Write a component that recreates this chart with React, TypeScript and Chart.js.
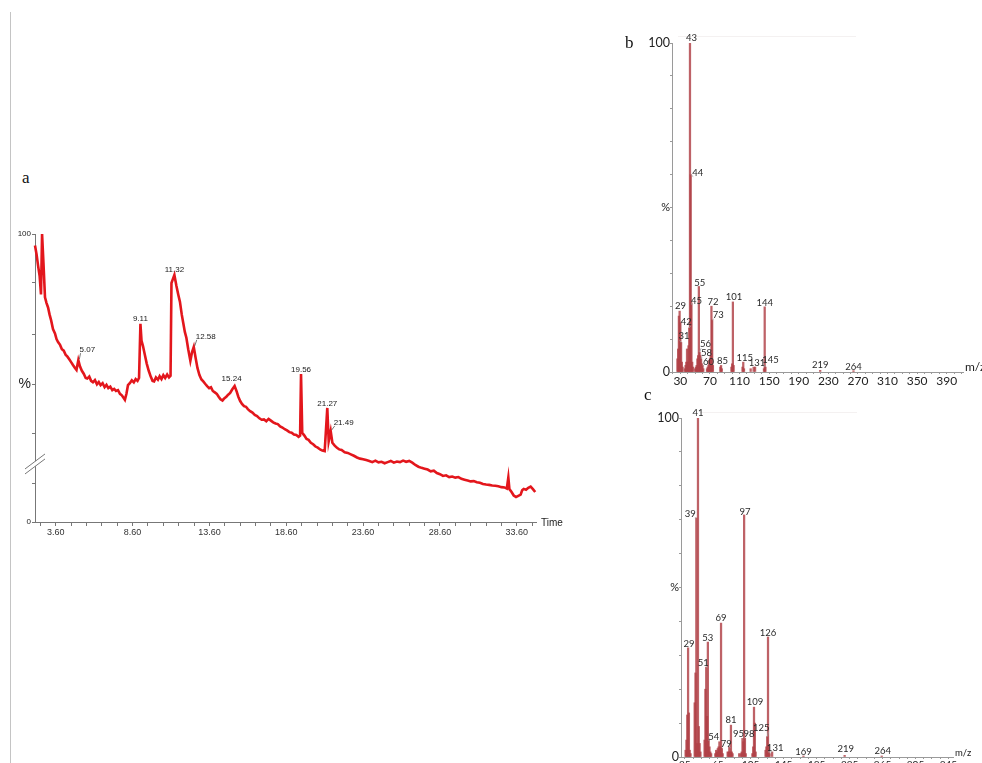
import React, { useEffect, useRef } from 'react';
import { Chart, registerables } from 'chart.js';

Chart.register(...registerables);
Chart.defaults.font.family = "'Liberation Sans', Arial, sans-serif";

// ---------- Panel a : chromatogram ----------
const chromTime = [
  2.25, 2.35, 2.45, 2.55, 2.64, 2.71, 2.8, 2.9, 3.0, 3.1, 3.2, 3.3, 3.42, 3.55, 3.65, 3.75, 3.88, 4.0, 4.12, 4.25,
  4.35, 4.48, 4.6, 4.72, 4.85, 4.95, 5.07, 5.18, 5.3, 5.42, 5.55, 5.65, 5.78, 5.9, 6.02, 6.15, 6.28, 6.4, 6.52, 6.65,
  6.78, 6.9, 7.02, 7.15, 7.28, 7.4, 7.52, 7.65, 7.78, 7.9, 8.0, 8.1, 8.2, 8.3, 8.42, 8.55, 8.68, 8.8, 8.92, 9.02,
  9.11, 9.18, 9.28, 9.4, 9.52, 9.65, 9.78, 9.9, 10.0, 10.12, 10.25, 10.36, 10.48, 10.6, 10.72, 10.85, 10.97, 11.07, 11.13, 11.32,
  11.45, 11.57, 11.68, 11.8, 11.9, 12.0, 12.1, 12.22, 12.36, 12.47, 12.58, 12.7, 12.82, 12.95, 13.08, 13.2, 13.32, 13.45, 13.58, 13.7,
  13.82, 13.95, 14.08, 14.2, 14.32, 14.45, 14.58, 14.7, 14.82, 14.95, 15.08, 15.24, 15.36, 15.48, 15.6, 15.72, 15.85, 15.98, 16.1, 16.25,
  16.4, 16.55, 16.7, 16.85, 17.0, 17.15, 17.3, 17.45, 17.6, 17.75, 17.9, 18.05, 18.2, 18.35, 18.5, 18.65, 18.8, 18.95, 19.1, 19.25,
  19.4, 19.5, 19.56, 19.64, 19.78, 19.92, 20.05, 20.2, 20.35, 20.5, 20.65, 20.8, 20.95, 21.1, 21.27, 21.36, 21.49, 21.6, 21.75, 21.9,
  22.05, 22.2, 22.4, 22.6, 22.8, 23.0, 23.2, 23.4, 23.6, 23.8, 24.0, 24.2, 24.4, 24.6, 24.8, 25.0, 25.2, 25.4, 25.6, 25.8,
  26.0, 26.2, 26.4, 26.6, 26.8, 27.0, 27.2, 27.4, 27.6, 27.8, 28.0, 28.2, 28.4, 28.6, 28.8, 29.0, 29.2, 29.4, 29.6, 29.8,
  30.0, 30.2, 30.4, 30.6, 30.8, 31.0, 31.2, 31.4, 31.6, 31.8, 32.0, 32.2, 32.4, 32.6, 32.8, 32.95, 33.05, 33.12, 33.25, 33.4,
  33.55, 33.7, 33.85, 33.95, 34.05, 34.2, 34.35, 34.5, 34.65, 34.8
];
const chromIntensity = [
  96, 93, 89, 85.5, 79, 100, 90, 78, 76, 74.5, 72, 70, 67, 65.5, 63.5, 62.5, 61.5, 60, 59.5, 58,
  57.5, 56.5, 55.5, 54.5, 53.5, 52.8, 56.2, 54, 52.5, 51.5, 50, 49.8, 50.5, 49, 48.5, 49.3, 47.8, 48.6, 47.5, 48.2,
  46.8, 47.6, 46.5, 47, 45.8, 46.2, 45.5, 45.8, 44.5, 44, 43.2, 42.4, 44.5, 47.5, 48.2, 49.2, 48.5, 49.6, 49, 50,
  68.8, 63, 61, 58, 55, 52.5, 50.5, 49, 48.8, 50.2, 49.4, 50.6, 49.6, 51, 50, 51.2, 50.2, 50.8, 83, 85.8,
  82, 79, 76.5, 72, 69, 66, 64, 60, 56, 59, 60.8, 57, 53.5, 51, 49.5, 48.8, 48, 47.2, 46.5, 46.8,
  45.5, 45, 44.5, 43.5, 42.6, 42.2, 43, 43.5, 44.2, 44.8, 46, 47.2, 45.5, 43.5, 42, 41, 40.2, 40, 39.2, 38.5,
  38, 37.2, 36.8, 36, 35.5, 35.6, 35, 35.8, 35.2, 34.6, 34.2, 34, 33.2, 32.8, 32.2, 31.8, 31.2, 31, 30.4, 30.2,
  29.6, 30, 51.4, 31, 30, 28.8, 28.5, 27.5, 27, 26.2, 25.8, 25.2, 24.8, 24.6, 39.6, 28, 31.6, 27.5, 26.5, 25.8,
  25.2, 25, 24.2, 24, 23.5, 23, 22.4, 22, 21.8, 21.5, 21.2, 20.8, 21.3, 20.7, 20.9, 20.4, 20.8, 21.2, 20.6, 21,
  20.8, 21.3, 20.9, 21.2, 20.6, 19.8, 19.2, 18.8, 18.5, 18.2, 17.6, 17.8, 17, 16.6, 16, 16.2, 15.6, 15.8, 15.4, 15.6,
  15, 14.7, 14.4, 14.1, 14.2, 13.8, 13.6, 13.2, 13, 12.9, 12.7, 12.6, 12.4, 12.1, 12, 11.6, 15.5, 11.4, 10.5, 9.2,
  8.7, 9.1, 9.5, 11, 11.5, 11.2, 11.9, 12.3, 11.4, 10.4
];
const chromXTicks = [
  2.6, 3.6, 4.6, 5.6, 6.6, 7.6, 8.6, 9.6, 10.6, 11.6, 12.6, 13.6, 14.6, 15.6, 16.6, 17.6, 18.6,
  19.6, 20.6, 21.6, 22.6, 23.6, 24.6, 25.6, 26.6, 27.6, 28.6, 29.6, 30.6, 31.6, 32.6, 33.6, 34.6
];
const chromXLabelled = [3.6, 8.6, 13.6, 18.6, 23.6, 28.6, 33.6];
const chromYTicks = [0, 13.5, 30.9, 47.9, 65, 83, 100];
const chromYPercentTick = 47.9;
const chromBreakValue = 20.5;

const peakTimes = [5.07, 9.11, 11.32, 12.58, 15.24, 19.56, 21.27, 21.49];
const peakValues = [56.2, 68.8, 85.8, 60.8, 47.2, 51.4, 39.6, 31.6];
const peakLabels = ['5.07', '9.11', '11.32', '12.58', '15.24', '19.56', '21.27', '21.49'];
const peakLabelOffsets = [[9, -10], [0, -5], [0, -5], [12, -10], [-3, -7], [0, -4], [0, -4], [13, -8]];

// ---------- Panel b : mass spectrum ----------
const specBMz = [26, 27, 28, 29, 30, 31, 32, 33, 36, 37, 38, 39, 40, 41, 42, 43, 44, 45, 46, 47, 50, 51, 52, 53, 54, 55, 56, 57, 58, 59, 60, 61, 66, 67, 68, 69, 70, 71, 72, 73, 74, 84, 85, 86, 99, 100, 101, 102, 114, 115, 116, 125, 129, 131, 143, 144, 145, 219, 264];
const specBInt = [4, 7, 17, 18.5, 15, 9, 3, 1.5, 1, 2, 3, 7, 3, 8, 13.4, 100, 60, 21, 3, 1.5, 1, 1.5, 2, 4, 5, 26, 6, 5, 4, 2.5, 2, 1, 1, 1.5, 2, 3.5, 4, 5, 20, 15.8, 2, 1.5, 2, 1, 1.5, 2.5, 21.3, 2, 1.5, 3, 1, 1, 1.5, 1.5, 1, 19.8, 1.5, 0.5, 0.4];
const specBLabelMz = [29, 31, 42, 43, 44, 45, 55, 56, 58, 60, 72, 73, 85, 101, 115, 131, 144, 145, 219, 264];
const specBLabelOffsets = [[1, -5], [3, -6], [-3, -6], [1.5, -5], [7, -2], [5, -2], [1, -4], [6, -8], [5.5, -6], [6, -3], [1.5, -4], [6, -5], [1.5, -4], [1, -5], [1.5, -4], [2, -4], [0, -4], [5, -7], [0, -5], [0, -4]];
const specBXTicks = [20, 30, 40, 50, 60, 70, 80, 90, 100, 110, 120, 130, 140, 150, 160, 170, 180, 190, 200, 210, 220, 230, 240, 250, 260, 270, 280, 290, 300, 310, 320, 330, 340, 350, 360, 370, 380, 390, 400, 410];
const specBXLabelled = [30, 70, 110, 150, 190, 230, 270, 310, 350, 390];

// ---------- Panel c : mass spectrum ----------
const specCMz = [26, 27, 28, 29, 30, 31, 32, 37, 38, 39, 40, 41, 42, 43, 44, 49, 50, 51, 52, 53, 54, 55, 56, 57, 62, 63, 64, 65, 66, 67, 68, 69, 70, 71, 77, 78, 79, 80, 81, 82, 83, 91, 93, 94, 95, 96, 97, 98, 99, 107, 108, 109, 110, 111, 123, 124, 125, 126, 127, 128, 131, 169, 219, 264];
const specCInt = [2, 5, 12.4, 32.2, 13, 2, 1, 16, 24.8, 70.5, 4, 100, 9, 4, 1.5, 5, 20, 26.5, 12, 33.9, 5, 3, 1.5, 1, 1, 2, 1.5, 2.5, 3, 4.5, 3, 39.5, 2.5, 1, 1.5, 1.5, 3, 1.5, 9.4, 1.5, 1, 1, 1, 1.5, 5.5, 4.5, 71.4, 5.5, 1, 1, 3, 14.7, 10, 1.5, 2, 3, 6, 35.4, 3.5, 1, 1.5, 0.3, 0.5, 0.3];
const specCLabelMz = [29, 39, 41, 51, 53, 54, 69, 79, 81, 95, 97, 98, 109, 125, 126, 131, 169, 219, 264];
const specCLabelOffsets = [[1, -4], [-6, -4], [0, -5], [-3, -4], [0, -4], [5, -3], [0, -5], [-3, -3], [0, -5], [-4, -4], [1, -3], [4, -4], [1, -5], [-6, -9], [0, -4], [3, -4], [0, -4], [1, -6], [1, -5]];
const specCXTicks = [25, 35, 45, 55, 65, 75, 85, 95, 105, 115, 125, 135, 145, 155, 165, 175, 185, 195, 205, 215, 225, 235, 245, 255, 265, 275, 285, 295, 305, 315, 325, 335, 345];
const specCXLabelled = [25, 65, 105, 145, 185, 225, 265, 305, 345];

const near = (a: number, b: number) => Math.abs(a - b) < 1e-6;
const LATO = "Lato, 'Liberation Sans', sans-serif";

function chromPlugin() {
  return {
    id: 'chromExtras',
    afterDraw(chart: any) {
      const { ctx, scales: { x, y } } = chart;
      ctx.save();
      // axis break
      const ax = x.left;
      const by = y.getPixelForValue(chromBreakValue);
      ctx.fillStyle = '#ffffff';
      ctx.beginPath();
      ctx.moveTo(ax - 10, by + 6);
      ctx.lineTo(ax + 10, by - 9);
      ctx.lineTo(ax + 10, by - 4);
      ctx.lineTo(ax - 10, by + 11);
      ctx.closePath();
      ctx.fill();
      ctx.strokeStyle = '#777';
      ctx.lineWidth = 1;
      ctx.beginPath();
      ctx.moveTo(ax - 10, by + 6);
      ctx.lineTo(ax + 10, by - 9);
      ctx.moveTo(ax - 10, by + 11);
      ctx.lineTo(ax + 10, by - 4);
      ctx.stroke();
      // peak labels
      ctx.font = "8px 'Liberation Sans', Arial, sans-serif";
      ctx.fillStyle = '#1a1a1a';
      ctx.textAlign = 'center';
      ctx.textBaseline = 'middle';
      peakTimes.forEach((t, i) => {
        const px = x.getPixelForValue(t);
        const py = y.getPixelForValue(peakValues[i]);
        const [dx, dy] = peakLabelOffsets[i];
        const lx = px + dx;
        const ly = py + dy;
        if (Math.abs(dx) >= 5) {
          const w = ctx.measureText(peakLabels[i]).width;
          ctx.strokeStyle = '#555';
          ctx.lineWidth = 0.8;
          ctx.beginPath();
          ctx.moveTo(px + 1, py - 1);
          ctx.lineTo(lx - w / 2 + 1, ly + 3);
          ctx.stroke();
        }
        ctx.fillText(peakLabels[i], lx, ly);
      });
      ctx.textAlign = 'left';
      ctx.font = "10px 'Liberation Sans', Arial, sans-serif";
      ctx.fillStyle = '#222';
      ctx.fillText('Time', x.right + 5, y.bottom + 1);
      ctx.restore();
    },
  };
}

function barLabelPlugin(id: string, mz: number[], vals: number[], labelMz: number[], offsets: number[][], axisFont: string, axisDy: number) {
  return {
    id,
    afterDatasetsDraw(chart: any) {
      const { ctx, scales: { x, y } } = chart;
      ctx.save();
      ctx.font = `9.5px ${LATO}`;
      ctx.fillStyle = '#2a2a2a';
      ctx.textAlign = 'center';
      ctx.textBaseline = 'middle';
      labelMz.forEach((m, i) => {
        const idx = mz.indexOf(m);
        const v = idx >= 0 ? vals[idx] : 0;
        const px = x.getPixelForValue(m);
        const py = y.getPixelForValue(v);
        const [dx, dy] = offsets[i];
        const lx = px + dx;
        const ly = py + dy;
        const text = String(m);
        if (Math.abs(dx) >= 3) {
          const w = ctx.measureText(text).width;
          ctx.strokeStyle = '#9a9a9a';
          ctx.lineWidth = 0.8;
          ctx.beginPath();
          ctx.moveTo(px, py);
          ctx.lineTo(lx - Math.sign(dx) * (w / 2 - 1), ly + 4);
          ctx.stroke();
        }
        ctx.fillText(text, lx, ly);
      });
      ctx.textAlign = 'left';
      ctx.font = axisFont;
      ctx.fillStyle = '#222';
      ctx.fillText('m/z', x.right + 2, y.bottom + axisDy);
      ctx.restore();
    },
  };
}

function specConfig(mz: number[], vals: number[], xMin: number, xMax: number, xTicks: number[], xLabelled: number[],
  pad: { top: number; right: number }, yWidth: number, xHeight: number, xFontSize: number, plugin: any) {
  return {
    type: 'bar' as const,
    data: {
      datasets: [{
        data: mz.map((m, i) => ({ x: m, y: vals[i] })),
        backgroundColor: 'rgba(176,64,70,0.82)',
        borderWidth: 0,
        barThickness: 1.6,
      }],
    },
    options: {
      animation: false as const,
      responsive: false,
      maintainAspectRatio: false,
      layout: { padding: { top: pad.top, right: pad.right, left: 0, bottom: 0 } },
      plugins: { legend: { display: false }, tooltip: { enabled: false } },
      scales: {
        x: {
          type: 'linear' as const,
          min: xMin,
          max: xMax,
          offset: false,
          afterBuildTicks: (s: any) => { s.ticks = xTicks.map((v) => ({ value: v })); },
          afterFit: (s: any) => { s.height = xHeight; },
          border: { display: true, color: '#9a9a9a', width: 1 },
          grid: { display: true, offset: false, drawOnChartArea: false, drawTicks: true, tickLength: 2, tickColor: '#9a9a9a' },
          ticks: {
            autoSkip: false, maxRotation: 0, padding: 0, color: '#222',
            font: { family: LATO, size: xFontSize },
            callback: (v: any) => (xLabelled.some((l) => near(l, Number(v))) ? String(v) : ''),
          },
        },
        y: {
          min: 0,
          max: 100,
          afterFit: (s: any) => { s.width = yWidth; },
          border: { display: true, color: '#9a9a9a', width: 1 },
          grid: { drawOnChartArea: false, drawTicks: true, tickLength: 2, tickColor: '#9a9a9a' },
          ticks: {
            stepSize: 10, autoSkip: false, padding: 0, color: '#222',
            font: (c: any) => (c.tick && near(c.tick.value, 50) ? { family: LATO, size: 11 } : { family: LATO, size: 12.5 }),
            callback: (v: any) => (near(Number(v), 100) ? '100' : near(Number(v), 0) ? '0' : near(Number(v), 50) ? '%' : ''),
          },
        },
      },
    },
    plugins: [plugin],
  };
}

export default function App() {
  const aRef = useRef<HTMLCanvasElement>(null);
  const bRef = useRef<HTMLCanvasElement>(null);
  const cRef = useRef<HTMLCanvasElement>(null);

  useEffect(() => {
    const chartA = new Chart(aRef.current as HTMLCanvasElement, {
      type: 'line',
      data: {
        datasets: [{
          data: chromTime.map((t, i) => ({ x: t, y: chromIntensity[i] })),
          borderColor: '#e3161c',
          borderWidth: 2.6,
          pointRadius: 0,
          tension: 0,
          fill: false,
          clip: 4,
        }],
      },
      options: {
        animation: false,
        responsive: false,
        maintainAspectRatio: false,
        layout: { padding: { top: 34, right: 44, left: 0, bottom: 0 } },
        plugins: { legend: { display: false }, tooltip: { enabled: false } },
        scales: {
          x: {
            type: 'linear',
            min: 2.25,
            max: 34.85,
            afterBuildTicks: (s: any) => { s.ticks = chromXTicks.map((v) => ({ value: v })); },
            afterFit: (s: any) => { s.height = 18; },
            border: { display: true, color: '#777', width: 1 },
            grid: { drawOnChartArea: false, drawTicks: true, tickLength: 4, tickColor: '#777' },
            ticks: {
              autoSkip: false, maxRotation: 0, padding: 1, color: '#333',
              font: { size: 9 },
              callback: (v: any) => (chromXLabelled.some((l) => near(l, Number(v))) ? Number(v).toFixed(2) : ''),
            },
          },
          y: {
            min: 0,
            max: 100,
            afterBuildTicks: (s: any) => { s.ticks = chromYTicks.map((v) => ({ value: v })); },
            afterFit: (s: any) => { s.width = 35; },
            border: { display: true, color: '#777', width: 1 },
            grid: { drawOnChartArea: false, drawTicks: true, tickLength: 3, tickColor: '#777' },
            ticks: {
              autoSkip: false, padding: 1, color: '#222',
              font: (c: any) => (c.tick && near(c.tick.value, chromYPercentTick) ? { size: 14 } : { size: 8 }),
              callback: (v: any) => (near(Number(v), 100) ? '100' : near(Number(v), 0) ? '0' : near(Number(v), chromYPercentTick) ? '%' : ''),
            },
          },
        },
      },
      plugins: [chromPlugin()],
    } as any);

    const chartB = new Chart(bRef.current as HTMLCanvasElement, specConfig(
      specBMz, specBInt, 18.7, 412, specBXTicks, specBXLabelled,
      { top: 43, right: 19 }, 72, 28, 12,
      barLabelPlugin('bLabels', specBMz, specBInt, specBLabelMz, specBLabelOffsets, `12px ${LATO}`, -5),
    ) as any);

    const chartC = new Chart(cRef.current as HTMLCanvasElement, specConfig(
      specCMz, specCInt, 20.4, 350.5, specCXTicks, specCXLabelled,
      { top: 38, right: 29 }, 81, 23, 10,
      barLabelPlugin('cLabels', specCMz, specCInt, specCLabelMz, specCLabelOffsets, `9.5px ${LATO}`, -4),
    ) as any);

    return () => {
      chartA.destroy();
      chartB.destroy();
      chartC.destroy();
    };
  }, []);

  const serif: React.CSSProperties = {
    position: 'absolute', fontFamily: "'Liberation Serif', 'DejaVu Serif', serif", fontSize: 17, lineHeight: 1, color: '#111',
  };

  return (
    <div style={{ position: 'fixed', left: 0, top: 0, width: 982, height: 763, overflow: 'hidden', background: '#ffffff' }}>
      <div style={{ position: 'absolute', left: 10, top: 12, width: 1, height: 751, background: '#c4c4c4' }} />
      <div style={{ position: 'absolute', left: 678, top: 36, width: 178, height: 1, background: '#f4f1f1' }} />
      <div style={{ position: 'absolute', left: 700, top: 412, width: 157, height: 1, background: '#f4f1f1' }} />
      <canvas ref={aRef} width={580} height={340} style={{ position: 'absolute', left: 0, top: 200, width: 580, height: 340 }} />
      <canvas ref={bRef} width={382} height={400} style={{ position: 'absolute', left: 600, top: 0, width: 382, height: 400 }} />
      <canvas ref={cRef} width={382} height={400} style={{ position: 'absolute', left: 600, top: 380, width: 382, height: 400 }} />
      <div style={{ ...serif, left: 22, top: 169 }}>a</div>
      <div style={{ ...serif, left: 625, top: 34 }}>b</div>
      <div style={{ ...serif, left: 644, top: 386 }}>c</div>
    </div>
  );
}
